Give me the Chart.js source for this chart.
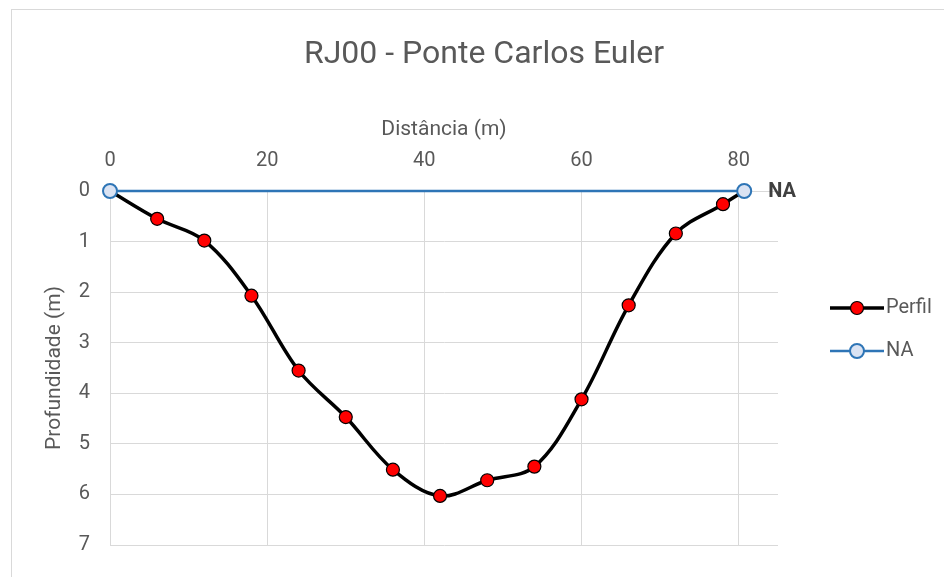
<!DOCTYPE html>
<html>
<head>
<meta charset="utf-8">
<script src="https://cdn.jsdelivr.net/npm/chart.js@4/dist/chart.umd.min.js"></script>
<style>
  html, body { margin: 0; padding: 0; background: #fff; }
  canvas { display: block; }
</style>
</head>
<body>
<canvas id="perfil" width="944" height="577"></canvas>
<script>
// distância (m) e profundidade (m) do perfil
var distancias = [0, 6, 12, 18, 24, 30, 36, 42, 48, 54, 60, 66, 72, 78, 80.7];
var profundidades = [0, 0.55, 0.98, 2.07, 3.55, 4.47, 5.51, 6.03, 5.72, 5.45, 4.12, 2.26, 0.84, 0.26, 0];

// nível d'água
var naX = [0, 80.7];
var naY = [0, 0];

var titulo = "RJ00 - Ponte Carlos Euler";
var legendas = ["Perfil", "NA"];

var cinza = "#595959";
var grade = "#d9d9d9";
var fonte = "Roboto";

function pontos(xs, ys) {
    return xs.map(function (x, i) { return { x: x, y: ys[i] }; });
}

// moldura do gráfico
var moldura = {
    id: "moldura",
    beforeDraw: function (chart) {
        var ctx = chart.ctx;
        ctx.save();
        ctx.fillStyle = "#fff";
        ctx.fillRect(0, 0, chart.width, chart.height);
        ctx.strokeStyle = grade;
        ctx.lineWidth = 1;
        ctx.strokeRect(11.5, 9.5, 2000, 2000);
        ctx.restore();
    }
};

// rótulo "NA" no último ponto e legenda à direita
var extras = {
    id: "extras",
    afterDraw: function (chart) {
        var ctx = chart.ctx;
        var meta = chart.getDatasetMeta(1);
        var ult = meta.data[meta.data.length - 1];
        ctx.save();
        ctx.font = "bold 20px " + fonte;
        ctx.fillStyle = "#404040";
        ctx.textBaseline = "middle";
        ctx.textAlign = "left";
        ctx.fillText("NA", ult.x + 24, ult.y + 1);

        var ys = [308, 351];
        chart.data.datasets.forEach(function (ds, i) {
            var y = ys[i];
            ctx.strokeStyle = ds.borderColor;
            ctx.lineWidth = ds.borderWidth;
            ctx.beginPath();
            ctx.moveTo(830, y);
            ctx.lineTo(884, y);
            ctx.stroke();
            ctx.beginPath();
            ctx.arc(857, y, ds.pointRadius, 0, Math.PI * 2);
            ctx.fillStyle = ds.pointBackgroundColor;
            ctx.fill();
            ctx.lineWidth = ds.pointBorderWidth;
            ctx.strokeStyle = ds.pointBorderColor;
            ctx.stroke();
            ctx.font = "20px " + fonte;
            ctx.fillStyle = cinza;
            ctx.fillText(ds.label, 886, y);
        });
        ctx.restore();
    }
};

new Chart(document.getElementById("perfil"), {
    type: "line",
    data: {
        datasets: [
            {
                label: legendas[0],
                data: pontos(distancias, profundidades),
                borderColor: "#000000",
                borderWidth: 3.5,
                tension: 0.35,
                pointRadius: 6.5,
                pointBackgroundColor: "#ff0000",
                pointBorderColor: "#000000",
                pointBorderWidth: 1.2,
                clip: false,
                order: 2
            },
            {
                label: legendas[1],
                data: pontos(naX, naY),
                borderColor: "#2e75b6",
                borderWidth: 2.5,
                pointRadius: 7,
                pointBackgroundColor: "#dae3f3",
                pointBorderColor: "#2e75b6",
                pointBorderWidth: 2,
                clip: false,
                order: 1
            }
        ]
    },
    options: {
        responsive: false,
        animation: false,
        devicePixelRatio: 1,
        layout: { padding: { left: 24, right: 0, top: 0, bottom: 22 } },
        plugins: {
            legend: { display: false },
            tooltip: { enabled: false },
            title: {
                display: true,
                text: titulo,
                color: cinza,
                font: { family: fonte, size: 32, weight: "normal" },
                padding: { top: 36, bottom: 0 }
            }
        },
        scales: {
            x: {
                type: "linear",
                position: "top",
                min: 0,
                max: 85,
                afterFit: function (s) { s.height = 191 - 74.4; },
                ticks: {
                    stepSize: 20,
                    includeBounds: false,
                    color: cinza,
                    padding: 18,
                    font: { family: fonte, size: 20 }
                },
                grid: { color: grade, drawTicks: false },
                border: { color: grade },
                title: {
                    display: true,
                    text: "Distância (m)",
                    color: cinza,
                    font: { family: fonte, size: 21 },
                    padding: { top: 43, bottom: 0 }
                }
            },
            y: {
                type: "linear",
                reverse: true,
                min: 0,
                max: 7,
                afterFit: function (s) { s.width = 86; },
                ticks: {
                    stepSize: 1,
                    color: cinza,
                    padding: 20,
                    font: { family: fonte, size: 20 }
                },
                grid: { color: grade, drawTicks: false },
                border: { color: grade },
                title: {
                    display: true,
                    text: "Profundidade (m)",
                    color: cinza,
                    font: { family: fonte, size: 21 },
                    padding: { top: 18, bottom: 0 }
                }
            },
            // espaço reservado para a legenda
            legenda: {
                type: "linear",
                position: "right",
                afterFit: function (s) { s.width = 166; },
                ticks: { display: false },
                grid: { display: false },
                border: { display: false }
            }
        }
    },
    plugins: [moldura, extras]
});
</script>
</body>
</html>
